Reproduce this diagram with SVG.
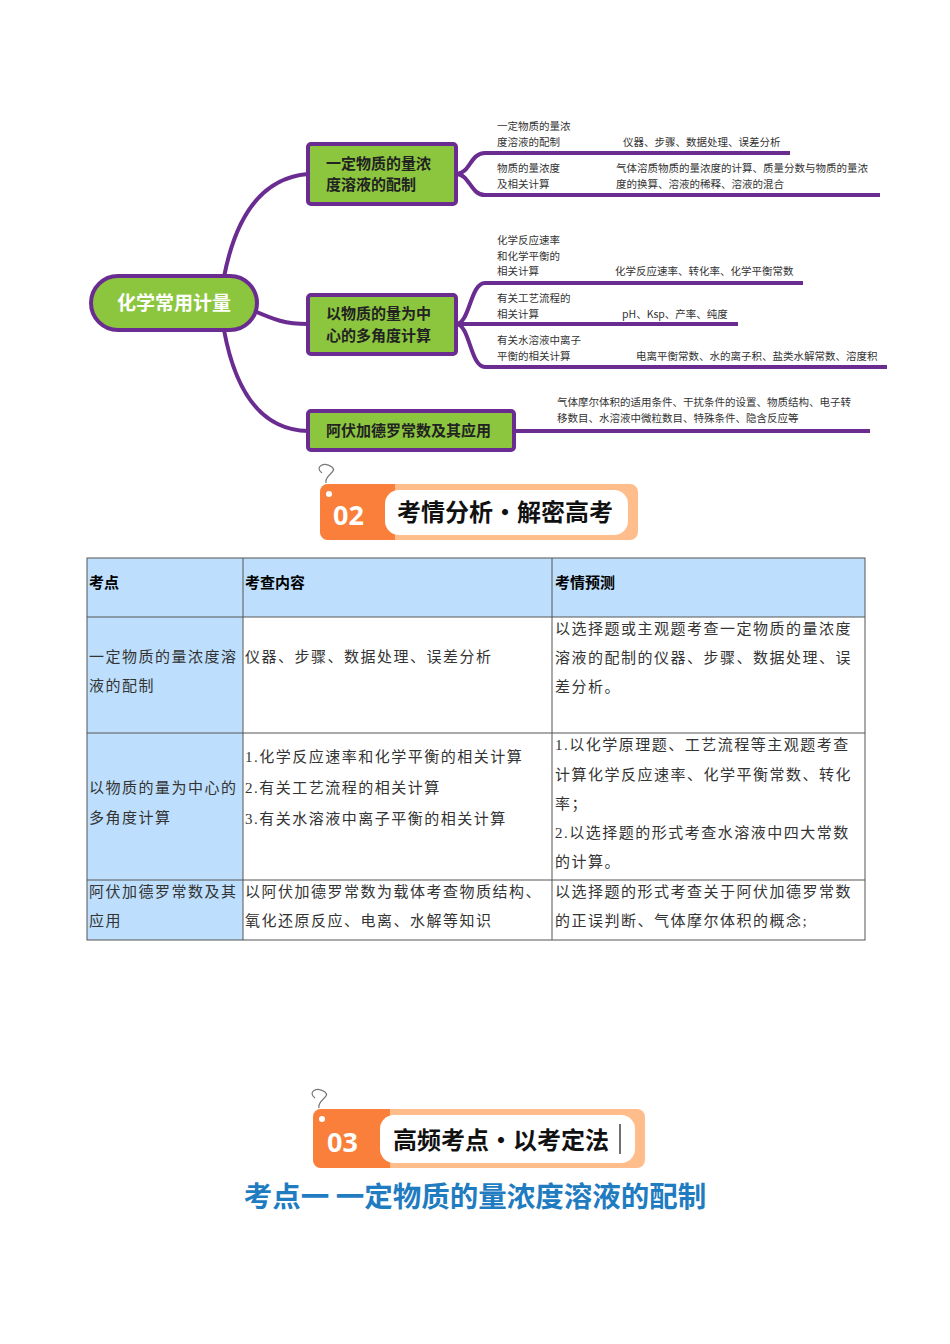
<svg xmlns="http://www.w3.org/2000/svg" width="950" height="1344" viewBox="0 0 950 1344">
<style>
.node{fill:#8CC63F;stroke:#6A2C91;stroke-width:4}
.con{fill:none;stroke:#6A2C91;stroke-width:4}
.nt{font-family:"Noto Sans CJK SC",sans-serif;font-weight:bold;font-size:15px;fill:#222}
.sm{font-family:"Noto Sans CJK SC",sans-serif;font-size:10.5px;fill:#333}
.th{font-family:"Noto Sans CJK SC",sans-serif;font-weight:bold;font-size:15px;fill:#000}
.td{font-family:"Liberation Serif","Noto Sans CJK SC",serif;font-size:15px;letter-spacing:1.5px;fill:#333}
.grid{fill:none;stroke:#555;stroke-width:1}
.bt{font-family:"Noto Sans CJK SC",sans-serif;font-weight:bold;font-size:24px;fill:#111}
.bn{font-family:"Open Sans",sans-serif;font-weight:bold;font-size:27px;fill:#fff}
</style>
<g id="connectors">
<path class="con" d="M224,277 C235,220 260,178 308,174"/>
<path class="con" d="M252,310 C275,320 285,324 308,324"/>
<path class="con" d="M224,330 C235,390 260,430 308,431"/>
<path class="con" d="M456,174 C470,174 470,153 485,153 L790,153"/>
<path class="con" d="M456,174 C470,174 470,195 485,195 L880,195"/>
<path class="con" d="M456,324 C470,324 470,283 485,283 L803,283"/>
<path class="con" d="M456,324 L738,324"/>
<path class="con" d="M456,324 C470,324 470,367 485,367 L887,367"/>
<path class="con" d="M514,431 L870,431"/>
</g>
<g id="root"><rect class="node" x="91" y="276" width="166" height="54" rx="27"/><text x="174" y="310" text-anchor="middle" font-family="Noto Sans CJK SC,sans-serif" font-weight="bold" font-size="19" fill="#fff">化学常用计量</text></g>
<g id="n1"><rect class="node" x="308" y="144" width="148" height="60" rx="3"/><text class="nt" x="326" y="169">一定物质的量浓</text><text class="nt" x="326" y="190">度溶液的配制</text></g>
<g id="n2"><rect class="node" x="308" y="295" width="148" height="59" rx="3"/><text class="nt" x="326" y="319">以物质的量为中</text><text class="nt" x="326" y="341">心的多角度计算</text></g>
<g id="n3"><rect class="node" x="308" y="411" width="206" height="39" rx="3"/><text class="nt" x="326" y="436">阿伏加德罗常数及其应用</text></g>
<g id="leaves">
<text class="sm" x="497" y="130">一定物质的量浓</text><text class="sm" x="497" y="146">度溶液的配制</text><text class="sm" x="623" y="146">仪器、步骤、数据处理、误差分析</text>
<text class="sm" x="497" y="172">物质的量浓度</text><text class="sm" x="497" y="188">及相关计算</text><text class="sm" x="616" y="172">气体溶质物质的量浓度的计算、质量分数与物质的量浓</text><text class="sm" x="616" y="188">度的换算、溶液的稀释、溶液的混合</text>
<text class="sm" x="497" y="244">化学反应速率</text><text class="sm" x="497" y="260">和化学平衡的</text><text class="sm" x="497" y="275">相关计算</text><text class="sm" x="615" y="275">化学反应速率、转化率、化学平衡常数</text>
<text class="sm" x="497" y="302">有关工艺流程的</text><text class="sm" x="497" y="318">相关计算</text><text class="sm" x="622" y="318">pH、Ksp、产率、纯度</text>
<text class="sm" x="497" y="344">有关水溶液中离子</text><text class="sm" x="497" y="360">平衡的相关计算</text><text class="sm" x="636" y="360">电离平衡常数、水的离子积、盐类水解常数、溶度积</text>
<text class="sm" x="557" y="406">气体摩尔体积的适用条件、干扰条件的设置、物质结构、电子转</text><text class="sm" x="557" y="422">移数目、水溶液中微粒数目、特殊条件、隐含反应等</text>
</g>
<g id="banner02">
<path d="M322,473 c-8,-6 2,-12 10,-6 c6,5 -8,8 -6,16" fill="none" stroke="#777" stroke-width="1.2"/>
<rect x="320" y="484" width="318" height="56" rx="8" fill="#FFBD8C"/>
<path d="M328,484 H395 V540 H328 a8,8 0 0 1 -8,-8 V492 a8,8 0 0 1 8,-8z" fill="#F97F3B"/>
<rect x="385" y="490" width="243" height="45" rx="14" fill="#fff"/>
<circle cx="329" cy="494" r="3" fill="#fff"/>
<text class="bn" x="333" y="525">02</text>
<text class="bt" x="397" y="521">考情分析•解密高考</text>
</g>
<g id="table">
<rect x="87" y="558" width="778" height="59" fill="#BDDFFD"/>
<rect x="87" y="617" width="156" height="323" fill="#BDDFFD"/>
<rect class="grid" x="87" y="558" width="778" height="382"/>
<path class="grid" d="M243,558V940M552,558V940M87,617H865M87,733H865M87,880H865"/>
<text class="th" x="89" y="588">考点</text><text class="th" x="245" y="588">考查内容</text><text class="th" x="555" y="588">考情预测</text>
<text class="td" x="89" y="662">一定物质的量浓度溶</text><text class="td" x="89" y="691">液的配制</text>
<text class="td" x="245" y="662">仪器、步骤、数据处理、误差分析</text>
<text class="td" x="555" y="634">以选择题或主观题考查一定物质的量浓度</text><text class="td" x="555" y="663">溶液的配制的仪器、步骤、数据处理、误</text><text class="td" x="555" y="692">差分析。</text>
<text class="td" x="89" y="793">以物质的量为中心的</text><text class="td" x="89" y="823">多角度计算</text>
<text class="td" x="245" y="762">1.化学反应速率和化学平衡的相关计算</text><text class="td" x="245" y="793">2.有关工艺流程的相关计算</text><text class="td" x="245" y="824">3.有关水溶液中离子平衡的相关计算</text>
<text class="td" x="555" y="750">1.以化学原理题、工艺流程等主观题考查</text><text class="td" x="555" y="780">计算化学反应速率、化学平衡常数、转化</text><text class="td" x="555" y="809">率；</text><text class="td" x="555" y="838">2.以选择题的形式考查水溶液中四大常数</text><text class="td" x="555" y="867">的计算。</text>
<text class="td" x="89" y="897">阿伏加德罗常数及其</text><text class="td" x="89" y="926">应用</text>
<text class="td" x="245" y="897">以阿伏加德罗常数为载体考查物质结构、</text><text class="td" x="245" y="926">氧化还原反应、电离、水解等知识</text>
<text class="td" x="555" y="897">以选择题的形式考查关于阿伏加德罗常数</text><text class="td" x="555" y="926">的正误判断、气体摩尔体积的概念;</text>
</g>
<g id="banner03">
<path d="M315,1098 c-8,-6 2,-12 10,-6 c6,5 -8,8 -6,16" fill="none" stroke="#777" stroke-width="1.2"/>
<rect x="313" y="1109" width="332" height="59" rx="8" fill="#FFBD8C"/>
<path d="M321,1109 H390 V1168 H321 a8,8 0 0 1 -8,-8 V1117 a8,8 0 0 1 8,-8z" fill="#F97F3B"/>
<rect x="380" y="1115" width="255" height="48" rx="14" fill="#fff"/>
<circle cx="322" cy="1119" r="3" fill="#fff"/>
<text class="bn" x="327" y="1152">03</text>
<text class="bt" x="393" y="1149">高频考点•以考定法</text>
<line x1="620" y1="1124" x2="620" y2="1154" stroke="#111" stroke-width="1.2"/>
</g>
<text x="475" y="1207" text-anchor="middle" font-family="Noto Sans CJK SC,sans-serif" font-weight="bold" font-size="28.5" fill="#1F7CC1">考点一 一定物质的量浓度溶液的配制</text>
</svg>
